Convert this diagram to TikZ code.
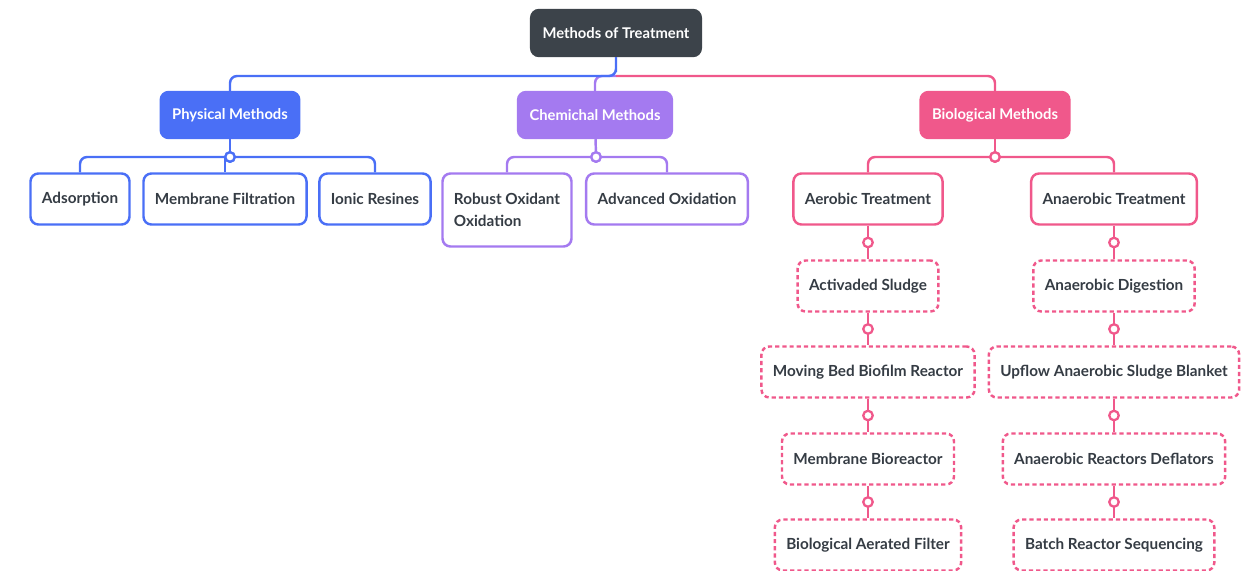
\documentclass[tikz,border=0pt]{standalone}
\usepackage{fontspec}
\setmainfont{Lato}
\usepackage{tikz}
\usetikzlibrary{calc}

\definecolor{topc}{HTML}{3C434A}
\definecolor{physc}{HTML}{4A6FF6}
\definecolor{chemc}{HTML}{A47AF0}
\definecolor{bioc}{HTML}{F0588B}
\definecolor{txtc}{HTML}{353C44}

\begin{document}
\begin{tikzpicture}[x=0.02cm, y=-0.02cm,
    every node/.style={font=\fontsize{8.7}{12.3}\selectfont\bfseries, text=txtc},
    box/.style={draw=#1, line width=1.4pt, rounded corners=4.5pt, fill=white,
        inner xsep=6.5pt, minimum height=1.02cm},
    head/.style={box=#1, fill=#1, text=white, minimum height=0.92cm,
        font=\fontsize{8.4}{10.5}\selectfont\bfseries},
    dbox/.style={box=bioc, dash pattern=on 2.4pt off 1.7pt},
    link/.style={draw=#1, line width=1.4pt, rounded corners=4pt},
    knob/.style={circle, draw=#1, line width=1.3pt, fill=white, inner sep=0pt, minimum size=0.19cm}
]
\useasboundingbox (0,0) rectangle (1252,571);

\node[head=topc] (T) at (616,33) {Methods of Treatment};
\node[head=physc] (Ph) at (230,115) {Physical Methods};
\node[head=chemc] (Ch) at (595,115) {Chemichal Methods};
\node[head=bioc] (Bi) at (995,115) {Biological Methods};
\coordinate (bus) at (616,76);
\draw[link=chemc] (T.south |- bus) -| (Ch.north);
\draw[link=physc] (T.south) |- (bus) -| (Ph.north);
\draw[link=bioc] (bus) -| (Bi.north);

\node[box=physc] (ad) at (80,199) {Adsorption};
\node[box=physc] (mf) at (225,199) {Membrane Filtration};
\node[box=physc] (ir) at (375,199) {Ionic Resines};
\node[knob=physc] (pk) at (230,157) {};
\draw[link=physc] (ad.north) |- (pk) -| (ir.north);
\draw[link=physc] (mf.north) -- (mf.north |- pk);
\draw[link=physc] (Ph) -- (pk);
\node[knob=physc] at (pk) {};

\node[box=chemc, align=left, minimum height=1.46cm] (ro) at (507,210) {Robust Oxidant\\Oxidation};
\node[box=chemc] (ao) at (667,199) {Advanced Oxidation};
\node[knob=chemc] (ck) at (596,157) {};
\draw[link=chemc] (ro.north) |- (ck) -| (ao.north);
\draw[link=chemc] (Ch) -- (ck);
\node[knob=chemc] at (ck) {};

\node[box=bioc] (ae) at (868,199) {Aerobic Treatment};
\node[box=bioc] (an) at (1114,199) {Anaerobic Treatment};
\node[knob=bioc] (bk) at (995,157) {};
\draw[link=bioc] (ae.north) |- (bk) -| (an.north);
\draw[link=bioc] (Bi) -- (bk);
\node[knob=bioc] at (bk) {};

\node[dbox] (a1) at (868,286) {Activaded Sludge};
\node[dbox] (a2) at (868,372) {Moving Bed Biofilm Reactor};
\node[dbox] (a3) at (868,459) {Membrane Bioreactor};
\node[dbox] (a4) at (868,545) {Biological Aerated Filter};
\node[dbox] (n1) at (1114,286) {Anaerobic Digestion};
\node[dbox] (n2) at (1114,372) {Upflow Anaerobic Sludge Blanket};
\node[dbox] (n3) at (1114,459) {Anaerobic Reactors Deflators};
\node[dbox] (n4) at (1114,545) {Batch Reactor Sequencing};

\foreach \p/\c in {ae/a1, a1/a2, a2/a3, a3/a4, an/n1, n1/n2, n2/n3, n3/n4}{
  \draw[link=bioc] (\p.south) -- (\c.north);
  \node[knob=bioc] at ($(\p.south)!0.5!(\c.north)$) {};
}
\end{tikzpicture}
\end{document}
